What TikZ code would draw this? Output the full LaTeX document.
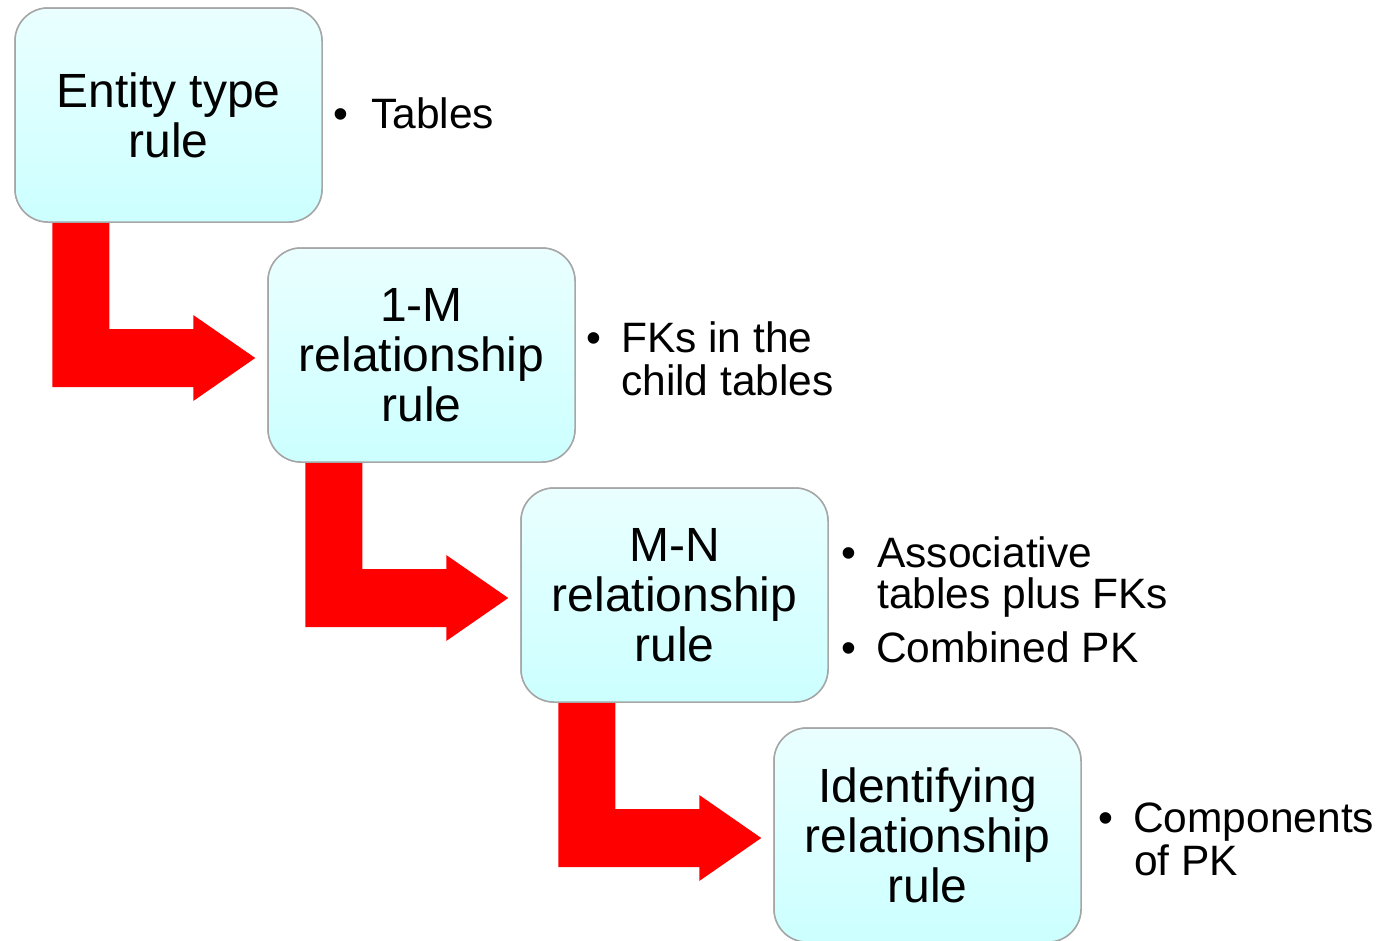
\documentclass[tikz,border=0pt]{standalone}
\usepackage{fontspec}
\setmainfont{Liberation Sans}
\usetikzlibrary{calc}
\definecolor{boxedge}{HTML}{A6A6A6}
\definecolor{boxtop}{HTML}{EAFFFF}
\definecolor{boxbottom}{HTML}{CCFFFF}
\definecolor{arrowred}{HTML}{FF0000}
\tikzset{
  rulebox/.style={draw=boxedge, line width=1.5pt, rounded corners=33pt,
    top color=boxtop, bottom color=boxbottom,
    minimum width=307pt, minimum height=214pt, inner sep=0pt,
    align=center, font=\fontsize{48}{50}\selectfont},
  bendarrow/.style={fill=arrowred, draw=none},
  itemtext/.style={anchor=base west, inner sep=0pt, font=\fontsize{42.5}{43}\selectfont},
}
% L-shaped block arrow leaving the bottom of one box and pointing at the next
\newcommand{\bendblock}[2]{%
  \fill[bendarrow] ($(#1.south west)+(38,0)$) coordinate (#1-a)
    -- ++(57,0) |- ($(#2.west)+(-74,-26)$) -- ++(0,-14)
    -- ($(#2.west)+(-12,3)$) -- ($(#2.west)+(-74,46)$) -- ++(0,-14)
    -| (#1-a) -- cycle;}
\begin{document}
\begin{tikzpicture}[x=1pt, y=-1pt]
  \begin{scope}
    \clip (0,0) rectangle (1379,940);
    % box positions, used by the arrows
    \path (168.5,115) node[rulebox] (b1) {};
    \path (421.5,355) node[rulebox] (b2) {};
    \path (674.5,595) node[rulebox] (b3) {};
    \path (927.5,835) node[rulebox] (b4) {};
    % connecting arrows
    \bendblock{b1}{b2}
    \bendblock{b2}{b3}
    \bendblock{b3}{b4}
    % the four rule boxes, above the arrow stems
    \path (168.5,115) node[rulebox] (b1) {Entity type\\rule};
    \path (421.5,355) node[rulebox] (b2) {1-M\\relationship\\rule};
    \path (674.5,595) node[rulebox] (b3) {M-N\\relationship\\rule};
    \path (927.5,835) node[rulebox] (b4) {Identifying\\relationship\\rule};
    % bullet lists
    \node[itemtext] (d1) at (333,128) {•};
    \node[itemtext] (t1) at (371,128) {Tables};
    \node[itemtext] (d2) at (586,352) {•};
    \node[itemtext] (t2a) at (621,352) {FKs in the};
    \node[itemtext] (t2b) at (621,395) {child tables};
    \node[itemtext] (d3a) at (841,567) {•};
    \node[itemtext] (t3a) at (877,567) {Associative};
    \node[itemtext] (t3b) at (877,608) {tables plus FKs};
    \node[itemtext] (d3b) at (841,662) {•};
    \node[itemtext] (t3c) at (876,662) {Combined PK};
    \node[itemtext] (d4) at (1098,832) {•};
    \node[itemtext] (t4a) at (1133,832) {Components};
    \node[itemtext] (t4b) at (1134,875) {of PK};
  \end{scope}
  \pgfresetboundingbox
  \useasboundingbox (0,0) rectangle (1379,940);
\end{tikzpicture}
\end{document}
